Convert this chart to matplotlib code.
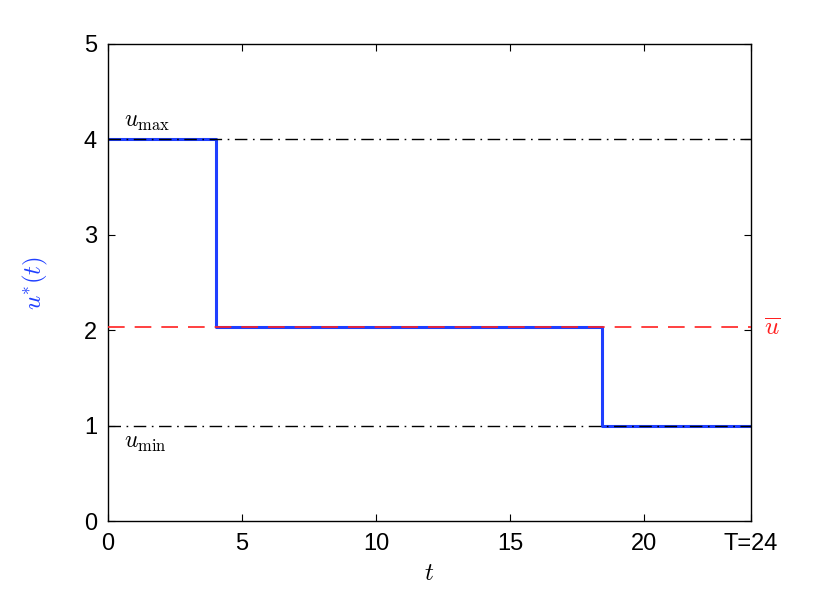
import matplotlib
matplotlib.use("Agg")
import matplotlib.pyplot as plt

# data
t_steps = [0, 4.02, 18.42, 24]
u_steps = [4, 2.03, 1, 1]
u_max = 4
u_min = 1
u_bar = 2.03
T = 24
xticks = [0, 5, 10, 15, 20, 24]
xticklabels = ["0", "5", "10", "15", "20", "T=24"]
yticks = [0, 1, 2, 3, 4, 5]

plt.rcParams['font.family'] = ['Liberation Sans', 'DejaVu Sans']
plt.rcParams['mathtext.fontset'] = 'cm'

fig = plt.figure(figsize=(8.30, 5.89), dpi=100)
ax = fig.add_axes([108/830, 1-521/589, 643/830, 477/589])

ax.step(t_steps, u_steps, where='post', color='#1f3fff', lw=2.2, zorder=2)
ax.axhline(u_max, color='black', lw=1, ls=(0, (9, 4, 1.2, 4)), zorder=3)
ax.axhline(u_min, color='black', lw=1, ls=(0, (9, 4, 1.2, 4)), zorder=3)
ax.axhline(u_bar, color='#ff2020', lw=1.2, ls=(0, (10, 6)), zorder=4)

ax.set_xlim(0, T)
ax.set_ylim(0, 5)
ax.set_xticks(xticks)
ax.set_xticklabels(xticklabels)
ax.set_yticks(yticks)
ax.tick_params(direction='in', top=True, right=True, labelsize=17, length=5, width=0.8)
ax.tick_params(axis='x', pad=9)
ax.tick_params(axis='y', pad=8)
for s in ax.spines.values():
    s.set_linewidth(1.0)

ax.text(0.6, u_max + 0.07, r'$u_{\max}$', fontsize=17, ha='left', va='bottom')
ax.text(0.6, u_min - 0.07, r'$u_{\min}$', fontsize=17, ha='left', va='top')
ax.text(24.5, u_bar, r'$\overline{u}$', fontsize=18, color='#ff2020', ha='left', va='center')

ax.set_xlabel(r'$t$', fontsize=18, labelpad=4)
ax.set_ylabel(r'$u^{*}(t)$', fontsize=18, color='#1f3fff', labelpad=24)

fig.savefig('out.png', dpi=100)
